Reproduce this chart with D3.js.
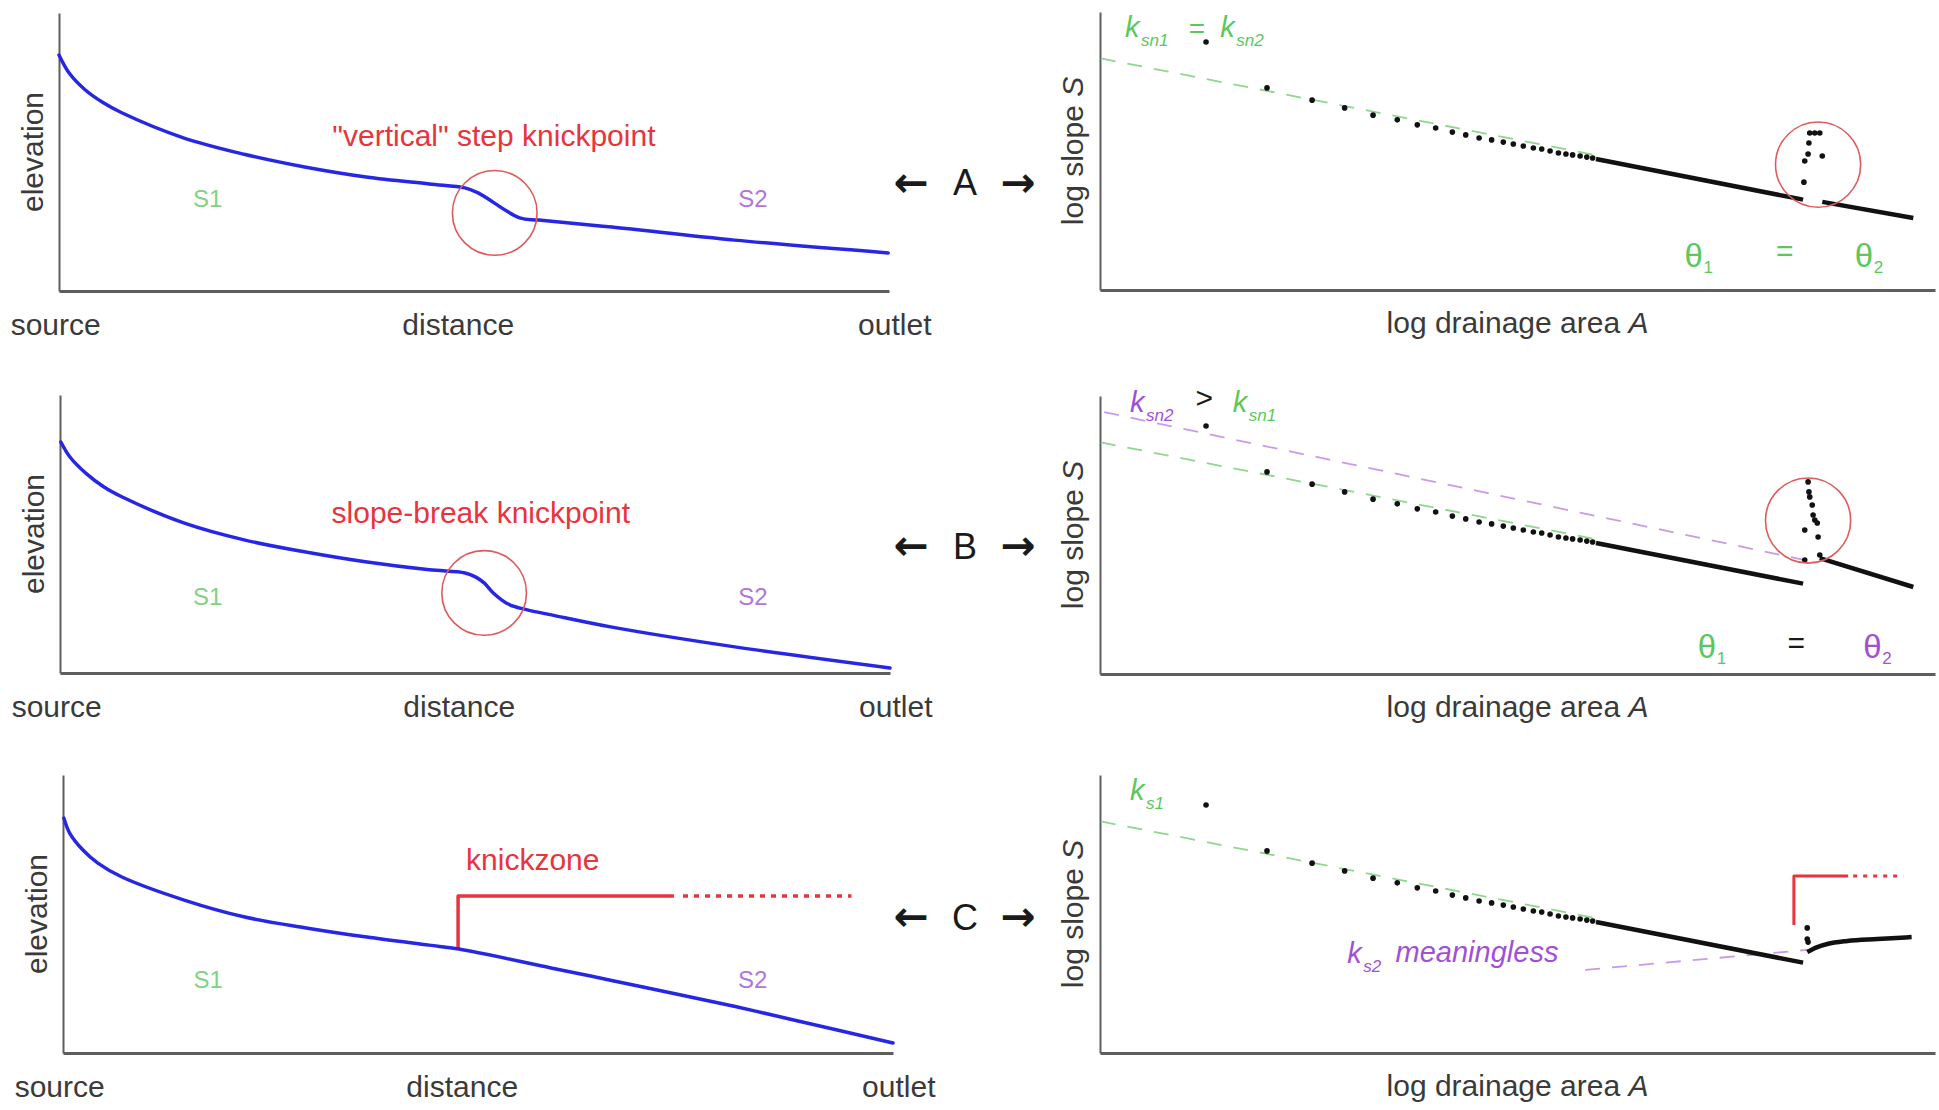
<!DOCTYPE html>
<html><head><meta charset="utf-8">
<script src="https://cdn.jsdelivr.net/npm/d3@7"></script>
<style>
html,body{margin:0;padding:0;background:#fff;}
svg{display:block;}
text{font-family:"Liberation Sans",Arial,Helvetica,sans-serif;}
text.arrow{font-family:"DejaVu Sans",sans-serif;font-weight:bold;}
</style></head><body>
<svg id="chart" width="1939" height="1110"></svg>
<script>
// ---------------- DATA (normalised 0-100 units on every panel) ----------------
// longitudinal profiles: [distance, elevation]
const profileA = [[0,84.9],[1.2,78.5],[3.1,72.5],[5.3,67.8],[7.5,64.2],[14.9,55.2],[22.3,49.2],[29.6,44.6],[37.0,41.0],[44.6,38.5],[48.9,37.1],[50.5,35.3],[55.5,26.3],[57.8,25.5],[66.6,23.0],[81.4,18.3],[99.9,13.7]];
const profileB = [[0.1,83.1],[1.2,77.7],[3.1,71.9],[5.3,66.9],[7.5,63.3],[14.9,54.0],[22.3,47.8],[29.6,43.5],[37.0,39.9],[44.5,37.1],[48.8,36.0],[50.1,34.5],[51.1,32.4],[52.2,28.8],[54.0,24.8],[56.3,22.7],[59.2,20.9],[66.5,16.5],[81.3,9.4],[100,1.8]];
const profileC = [[0.1,84.5],[0.8,79.1],[2.4,73.0],[4.2,68.3],[7.1,63.3],[14.6,55.0],[21.9,48.9],[29.3,45.0],[36.6,41.7],[44.1,38.8],[47.7,37.4],[58.8,30.6],[66.1,26.1],[73.6,21.4],[81.0,16.7],[88.3,11.7],[100,3.6]];
const knickzoneProfile = [[47.6,37.8],[47.6,56.5],[73.6,56.5]];
const knickzoneProfileDotted = [[74.7,56.5],[95.0,56.5]];
const knickCircleLeft = [[52.5,28.1],[51.1,28.8]];

// slope-area plots: [log A, log S]
const upstreamDots = [[12.7,89.2],[20.0,72.7],[25.4,68.3],[29.3,65.5],[32.7,62.9],[35.6,61.2],[38.0,59.4],[40.2,58.3],[42.2,56.8],[43.8,55.8],[45.4,54.7],[46.9,54.0],[48.3,53.2],[49.5,52.5],[50.7,51.8],[51.9,51.1],[52.9,50.7],[53.9,50.0],[54.9,49.3],[55.8,48.9],[56.6,48.6],[57.5,48.2],[58.3,47.8],[59.0,47.5]];
const upstreamLine = [[59.4,47.1],[84.2,32.5]];
const ksn1Dashed = [[0.1,83.3],[59.9,48.2]];
const knickDotsA = [[85.0,56.5],[85.6,56.5],[86.2,56.5],[84.9,52.9],[84.8,48.9],[86.5,48.2],[84.4,46.4],[84.3,38.8]];
const downstreamA = [[86.5,31.7],[97.4,25.9]];
const knickDotsB = [[84.8,69.1],[84.9,65.5],[85.0,63.7],[85.3,60.8],[85.4,57.2],[85.6,55.4],[85.9,54.3],[84.4,51.8],[86.0,49.3],[86.2,42.8],[84.4,41.0]];
const downstreamB = [[86.2,41.7],[97.4,31.3]];
const ksn2Dashed = [[0.5,94.2],[84.4,41.0]];
const knickDotsC = [[84.7,45.0],[84.7,41.0],[84.8,39.9]];
const downstreamC = [[84.7,36.3],[85.9,38.1],[87.1,39.2],[89.5,40.3],[93.1,41.0],[97.2,41.7]];
const ks2Dashed = [[58.1,29.9],[84.7,37.1]];
const knickzoneSA = [[83.1,46.0],[83.1,63.7],[89.6,63.7]];
const knickzoneSADotted = [[90.2,63.7],[96.2,63.7]];
const knickCircleRight = [[86.0,45.1],[84.8,55.2]];

// text
const rowLetters = ["A","B","C"];
const leftXLabels = ["source","distance","outlet"];
const leftXLabelPos = [-0.4,48.1,100.7];
const knickLabels = ["\"vertical\" step knickpoint","slope-break knickpoint","knickzone"];
const knickLabelPos = [[52.4,52.2],[50.7,54.0],[56.6,65.8]];
const segLabels = ["S1","S2"];
const segLabelPos = [[[17.9,30.2],[83.6,30.2]],[[17.8,24.5],[83.5,24.5]],[[17.5,23.4],[83.1,23.4]]];

// ---------------- LAYOUT ----------------
const H = 278, LW = 830, RW = 835, circleR = 5.1;
const leftPanels = [{x0:59,yBot:291},{x0:60,yBot:673},{x0:63,yBot:1053}];
const rightPanels = [{x0:1100,yBot:290},{x0:1100,yBot:674},{x0:1100,yBot:1053}];
const midRows = [{cy:182,base:195},{cy:545,base:559},{cy:916,base:930}];

const C = {blue:"#2626e4", red:"#e8343c", circ:"#e05a5a", green:"#5cc85c", greenL:"#7fd27f",
  purple:"#a24fd8", purpleL:"#b274dc", axis:"#5e5e5e", label:"#3a3a3a",
  gDash:"#8fd68f", pDash:"#c79be6"};

const svg = d3.select("#chart");

function scales(p, W){
  return {x:d3.scaleLinear().domain([0,100]).range([p.x0,p.x0+W]),
          y:d3.scaleLinear().domain([0,100]).range([p.yBot,p.yBot-H])};
}
function axes(g,s){
  const ax = g.append("g").attr("transform",`translate(0,${s.y(0)})`)
    .call(d3.axisBottom(s.x).tickValues([]).tickSizeOuter(0));
  ax.select(".domain").attr("stroke",C.axis).attr("stroke-width",3);
  const ay = g.append("g").attr("transform",`translate(${s.x(0)},0)`)
    .call(d3.axisLeft(s.y).tickValues([]).tickSizeOuter(0));
  ay.select(".domain").attr("stroke",C.axis).attr("stroke-width",2);
}
function txt(g,x,y,str,o={}){
  return g.append("text").attr("x",x).attr("y",y).text(str)
    .attr("font-size",o.size||30).attr("fill",o.fill||C.label)
    .attr("text-anchor",o.anchor||"start")
    .attr("font-style",o.italic?"italic":"normal");
}
function path(g,s,data,o){
  const ln = d3.line().x(d=>s.x(d[0])).y(d=>s.y(d[1]));
  if(o.curve) ln.curve(o.curve);
  return g.append("path").attr("d",ln(data)).attr("fill","none")
    .attr("stroke",o.stroke).attr("stroke-width",o.width||2)
    .attr("stroke-dasharray",o.dash||null).attr("stroke-linecap",o.cap||"butt")
    .attr("stroke-linejoin","round");
}
function dots(g,s,data){
  g.append("g").selectAll("circle").data(data).join("circle")
    .attr("cx",d=>s.x(d[0])).attr("cy",d=>s.y(d[1])).attr("r",2.8).attr("fill","#111");
}
function circle(g,s,c){
  g.append("circle").attr("cx",s.x(c[0])).attr("cy",s.y(c[1]))
    .attr("r",s.x(c[0]+circleR)-s.x(c[0])).attr("fill","none")
    .attr("stroke",C.circ).attr("stroke-width",1.6);
}

// ---------------- LEFT PANELS ----------------
const profiles = [profileA,profileB,profileC];
leftPanels.forEach((p,i)=>{
  const s = scales(p,LW), g = svg.append("g");
  axes(g,s);
  if(i===2){
    path(g,s,knickzoneProfile,{stroke:C.red,width:3.5,cap:"butt"});
    path(g,s,knickzoneProfileDotted,{stroke:C.red,width:3.5,dash:"5,6"});
  }
  path(g,s,profiles[i],{stroke:C.blue,width:3.5,curve:d3.curveCatmullRom.alpha(0.5),cap:"round"});
  if(i<2) circle(g,s,knickCircleLeft[i]);
  txt(g,s.x(knickLabelPos[i][0]),s.y(knickLabelPos[i][1]),knickLabels[i],{fill:C.red,anchor:"middle",size:30});
  txt(g,s.x(segLabelPos[i][0][0]),s.y(segLabelPos[i][0][1]),segLabels[0],{fill:C.greenL,anchor:"middle",size:24});
  txt(g,s.x(segLabelPos[i][1][0]),s.y(segLabelPos[i][1][1]),segLabels[1],{fill:C.purpleL,anchor:"middle",size:24});
  leftXLabels.forEach((l,j)=>txt(g,s.x(leftXLabelPos[j]),s.y(0)+44,l,{anchor:"middle"}));
  g.append("text").attr("transform",`translate(${s.x(0)-16},${s.y(50)}) rotate(-90)`)
    .attr("text-anchor","middle").attr("font-size",30).attr("fill",C.label).text("elevation");
});

// ---------------- MIDDLE ARROWS ----------------
midRows.forEach((m,i)=>{
  const g = svg.append("g");
  txt(g,965,m.base,rowLetters[i],{anchor:"middle",size:36,fill:"#1a1a1a"});
  [["\u2190",911],["\u2192",1018]].forEach(([a,x])=>{
    g.append("text").attr("class","arrow").attr("x",x).attr("y",m.cy).attr("dominant-baseline","central")
      .attr("text-anchor","middle").attr("font-size",42).attr("fill","#1a1a1a").text(a);
  });
});

// ---------------- RIGHT PANELS ----------------
function kLabel(g,s,x,y,main,sub,fill){
  txt(g,s.x(x),s.y(y),main,{fill,italic:true,size:29});
  txt(g,s.x(x)+16,s.y(y)+9,sub,{fill,italic:true,size:17});
}
function theta(g,s,x,y,sub,fill){
  txt(g,s.x(x),s.y(y),"\u03b8",{fill,size:33});
  txt(g,s.x(x)+19,s.y(y)+6,sub,{fill,size:17});
}
rightPanels.forEach((p,i)=>{
  const s = scales(p,RW), g = svg.append("g");
  axes(g,s);
  if(i===1) path(g,s,ksn2Dashed,{stroke:C.pDash,width:1.8,dash:"15,12"});
  path(g,s,ksn1Dashed,{stroke:C.gDash,width:1.8,dash:"15,12"});
  if(i===2){
    path(g,s,knickzoneSA,{stroke:C.red,width:3});
    path(g,s,knickzoneSADotted,{stroke:C.red,width:3,dash:"4,6"});
    path(g,s,ks2Dashed,{stroke:C.pDash,width:1.8,dash:"15,12"});
  }
  dots(g,s,upstreamDots);
  path(g,s,upstreamLine,{stroke:"#111",width:4.5});
  if(i===0){ dots(g,s,knickDotsA); path(g,s,downstreamA,{stroke:"#111",width:4.5}); circle(g,s,knickCircleRight[0]); }
  if(i===1){ dots(g,s,knickDotsB); path(g,s,downstreamB,{stroke:"#111",width:4.5}); circle(g,s,knickCircleRight[1]); }
  if(i===2){ dots(g,s,knickDotsC); path(g,s,downstreamC,{stroke:"#111",width:4.5,curve:d3.curveMonotoneX}); }

  // axis labels
  const xl = g.append("text").attr("x",s.x(50.0)).attr("y",s.y(0)+43).attr("text-anchor","middle")
    .attr("font-size",30).attr("fill",C.label);
  xl.append("tspan").text("log drainage area ");
  xl.append("tspan").attr("font-style","italic").text("A");
  const yl = g.append("text").attr("transform",`translate(${s.x(0)-17},${s.y(50)}) rotate(-90)`)
    .attr("text-anchor","middle").attr("font-size",30).attr("fill",C.label);
  yl.append("tspan").text("log slope ");
  yl.append("tspan").attr("font-style","italic").text("S");

  if(i===0){
    kLabel(g,s,3.0,91.0,"k","sn1",C.green);
    txt(g,s.x(11.6),s.y(90.5),"=",{fill:C.green,anchor:"middle",size:28});
    kLabel(g,s,14.4,91.0,"k","sn2",C.green);
    theta(g,s,70.0,8.3,"1",C.green);
    txt(g,s.x(82.0),s.y(10.4),"=",{fill:C.green,anchor:"middle",size:30});
    theta(g,s,90.4,8.3,"2",C.green);
  }
  if(i===1){
    kLabel(g,s,3.6,94.2,"k","sn2",C.purple);
    txt(g,s.x(12.5),s.y(95.7),">",{fill:"#1a1a1a",anchor:"middle",size:30});
    kLabel(g,s,15.9,94.2,"k","sn1",C.green);
    theta(g,s,71.6,5.8,"1",C.green);
    txt(g,s.x(83.4),s.y(7.6),"=",{fill:"#1a1a1a",anchor:"middle",size:30});
    theta(g,s,91.4,5.8,"2",C.purple);
  }
  if(i===2){
    kLabel(g,s,3.6,91.0,"k","s1",C.green);
    kLabel(g,s,29.6,32.4,"k","s2",C.purple);
    txt(g,s.x(35.4),s.y(32.7),"meaningless",{fill:C.purple,italic:true,size:29});
  }
});
</script>
</body></html>
